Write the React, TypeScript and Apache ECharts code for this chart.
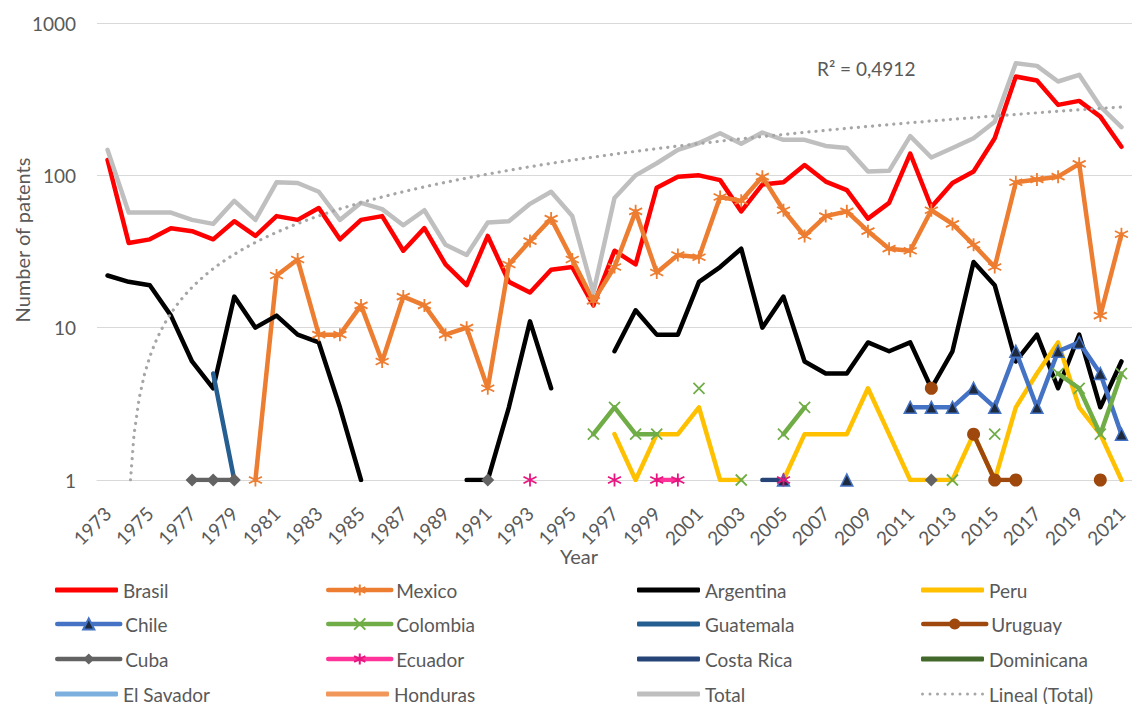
import React, { useEffect, useRef } from "react";
import * as echarts from "echarts";

// Patent counts per year for Latin American countries (log scale), 1973–2021
const YEARS = [
  "1973", "1974", "1975", "1976", "1977", "1978", "1979", "1980", "1981", "1982",
  "1983", "1984", "1985", "1986", "1987", "1988", "1989", "1990", "1991", "1992",
  "1993", "1994", "1995", "1996", "1997", "1998", "1999", "2000", "2001", "2002",
  "2003", "2004", "2005", "2006", "2007", "2008", "2009", "2010", "2011", "2012",
  "2013", "2014", "2015", "2016", "2017", "2018", "2019", "2020", "2021",
];

const BRASIL = [
  126, 36, 38, 45, 43, 38, 50, 40, 54, 51,
  61, 38, 51, 54, 32, 45, 26, 19, 40, 20,
  17, 24, 25, 14, 32, 26, 83, 98, 100, 93,
  58, 87, 90, 117, 91, 80, 52, 66, 139, 62,
  89, 106, 175, 445, 419, 290, 308, 243, 154,
];

const TOTAL = [
  147, 57, 57, 57, 51, 48, 68, 51, 90, 89,
  78, 51, 66, 60, 47, 59, 35, 30, 49, 50,
  65, 78, 54, 17, 71, 100, 120, 147, 163, 189,
  161, 191, 171, 171, 156, 151, 106, 107, 181, 131,
  151, 175, 225, 545, 523, 413, 457, 283, 207,
];

// [year, patents] — years without an entry are left as gaps
const MEXICO: [number, number][] = [
  [1980, 1], [1981, 22], [1982, 28], [1983, 9], [1984, 9], [1985, 14], [1986, 6],
  [1987, 16], [1988, 14], [1989, 9], [1990, 10], [1991, 4], [1992, 26], [1993, 37],
  [1994, 52], [1995, 28], [1996, 15], [1997, 25], [1998, 58], [1999, 23], [2000, 30],
  [2001, 29], [2002, 72], [2003, 68], [2004, 98], [2005, 59], [2006, 40], [2007, 54],
  [2008, 58], [2009, 43], [2010, 33], [2011, 32], [2012, 59], [2013, 48], [2014, 35],
  [2015, 25], [2016, 90], [2017, 94], [2018, 98], [2019, 119], [2020, 12], [2021, 41],
];
const ARGENTINA: [number, number][] = [
  [1973, 22], [1974, 20], [1975, 19], [1976, 12], [1977, 6], [1978, 4], [1979, 16],
  [1980, 10], [1981, 12], [1982, 9], [1983, 8], [1984, 3], [1985, 1],
  [1990, 1], [1991, 1], [1992, 3], [1993, 11], [1994, 4],
  [1997, 7], [1998, 13], [1999, 9], [2000, 9], [2001, 20], [2002, 25], [2003, 33],
  [2004, 10], [2005, 16], [2006, 6], [2007, 5], [2008, 5], [2009, 8], [2010, 7],
  [2011, 8], [2012, 4], [2013, 7], [2014, 27], [2015, 19], [2016, 6], [2017, 9],
  [2018, 4], [2019, 9], [2020, 3], [2021, 6],
];
const PERU: [number, number][] = [
  [1997, 2], [1998, 1], [1999, 2], [2000, 2], [2001, 3], [2002, 1], [2003, 1],
  [2005, 1], [2006, 2], [2007, 2], [2008, 2], [2009, 4], [2010, 2], [2011, 1],
  [2012, 1], [2013, 1], [2014, 2], [2015, 1], [2016, 3], [2017, 5], [2018, 8],
  [2019, 3], [2020, 2], [2021, 1],
];
const CHILE: [number, number][] = [
  [2005, 1], [2008, 1], [2011, 3], [2012, 3], [2013, 3], [2014, 4], [2015, 3],
  [2016, 7], [2017, 3], [2018, 7], [2019, 8], [2020, 5], [2021, 2],
];
const COLOMBIA: [number, number][] = [
  [1996, 2], [1997, 3], [1998, 2], [1999, 2], [2001, 4], [2003, 1], [2005, 2],
  [2006, 3], [2013, 1], [2015, 2], [2018, 5], [2019, 4], [2020, 2], [2021, 5],
];
const GUATEMALA: [number, number][] = [[1978, 5], [1979, 1]];
const URUGUAY: [number, number][] = [[2012, 4], [2014, 2], [2015, 1], [2016, 1], [2020, 1]];
const CUBA: [number, number][] = [[1977, 1], [1978, 1], [1979, 1], [1991, 1], [2012, 1]];
const ECUADOR: [number, number][] = [[1993, 1], [1997, 1], [1999, 1], [2000, 1], [2005, 1]];
const COSTA_RICA: [number, number][] = [[2004, 1], [2005, 1]];
const DOMINICANA: [number, number][] = [];
const EL_SAVADOR: [number, number][] = [];
const HONDURAS: [number, number][] = [];

const R2_LABEL = "R² = 0,4912";

// Legend grid: four columns, four rows
const LEGEND_COLUMNS = [55, 326, 637, 921];
const LEGEND_ROWS = [590, 624, 659, 694];
const LEGEND_ORDER = [
  ["Brasil", "Mexico", "Argentina", "Peru"],
  ["Chile", "Colombia", "Guatemala", "Uruguay"],
  ["Cuba", "Ecuador", "Costa Rica", "Dominicana"],
  ["El Savador", "Honduras", "Total", "Lineal (Total)"],
];

const FONT = 'Lato, "Noto Sans", sans-serif';
const TEXT = "#595959";
const GRID = "#D9D9D9";
const LINE_WIDTH = 4.5;

const STAR = "path://M5,0L5,10M0.67,2.5L9.33,7.5M0.67,7.5L9.33,2.5";
const CROSS = "path://M0,0L10,10M0,10L10,0";
const DOTS =
  "path://" +
  Array.from({ length: 9 }, (_, i) => `M${i * 7.5},1.5a1.5,1.5 0 1,0 3,0a1.5,1.5 0 1,0 -3,0z`).join("");

function toRow(pairs: [number, number][]) {
  const map = new Map(pairs.map(([y, v]) => [String(y), v]));
  return YEARS.map((y) => (map.has(y) ? map.get(y)! : null));
}

// Least-squares linear fit of the total, x = 1..n (category index + 1)
function linearFit(values: number[]) {
  const n = values.length;
  let sx = 0, sy = 0, sxx = 0, sxy = 0;
  values.forEach((v, i) => {
    const x = i + 1;
    sx += x; sy += v; sxx += x * x; sxy += x * v;
  });
  const slope = (n * sxy - sx * sy) / (n * sxx - sx * sx);
  const intercept = (sy - slope * sx) / n;
  return { slope, intercept };
}

function trendPoints(values: number[]) {
  const { slope, intercept } = linearFit(values);
  const last = values.length - 1;
  const start = (1 - intercept) / slope - 1; // where the fit reaches 1 on the log axis
  const pts: [number, number][] = [];
  const k0 = Math.max(start, 0);
  pts.push([k0, slope * (k0 + 1) + intercept]);
  for (let k = Math.ceil(k0 * 4) / 4; k <= last + 1e-9; k += 0.25) {
    if (k > k0) pts.push([k, slope * (k + 1) + intercept]);
  }
  return pts;
}

function line(name: string, data: (number | null)[], color: string, extra: any = {}) {
  return {
    name,
    type: "line",
    data,
    symbol: "none",
    showAllSymbol: true,
    connectNulls: false,
    lineStyle: { color, width: LINE_WIDTH, cap: "round", join: "round" },
    itemStyle: { color },
    emphasis: { disabled: true },
    ...extra,
  };
}

const MARKED = new Set(["Mexico", "Chile", "Colombia", "Uruguay", "Cuba", "Ecuador"]);
const LINE_COLORS: Record<string, string> = {
  Brasil: "#FF0000",
  Argentina: "#000000",
  Peru: "#FFC000",
  Guatemala: "#255E91",
  "Costa Rica": "#264478",
  Dominicana: "#43682B",
  "El Savador": "#7CAFDD",
  Honduras: "#F1975A",
  Total: "#BFBFBF",
  "Lineal (Total)": "#A6A6A6",
};

function legendFor(name: string, left: number, rowY: number) {
  const base: any = {
    left,
    top: rowY - 10,
    padding: 0,
    itemWidth: 63,
    selectedMode: false,
    textStyle: { fontSize: 19, color: TEXT, fontFamily: FONT, lineHeight: 20 },
  };
  if (MARKED.has(name)) {
    return { ...base, itemHeight: 14, lineStyle: { width: LINE_WIDTH }, data: [name] };
  }
  if (name === "Lineal (Total)") {
    return {
      ...base,
      itemHeight: 3,
      data: [{ name, icon: DOTS, itemStyle: { color: LINE_COLORS[name], borderWidth: 0 } }],
    };
  }
  return {
    ...base,
    itemHeight: 5,
    data: [{ name, icon: "roundRect", itemStyle: { color: LINE_COLORS[name], borderWidth: 0 } }],
  };
}

export default function App() {
  const ref = useRef<HTMLDivElement>(null);

  useEffect(() => {
    if (!ref.current) return;
    const chart = echarts.init(ref.current, null, { renderer: "svg" });

    const series: any[] = [
      line("Brasil", BRASIL, LINE_COLORS.Brasil),
      line("Mexico", toRow(MEXICO), "#ED7D31", {
        symbol: STAR,
        symbolSize: 13,
        itemStyle: { color: "#ED7D31", borderColor: "#ED7D31", borderWidth: 1.8 },
      }),
      line("Argentina", toRow(ARGENTINA), LINE_COLORS.Argentina),
      line("Peru", toRow(PERU), LINE_COLORS.Peru),
      line("Chile", toRow(CHILE), "#4472C4", {
        symbol: "triangle",
        symbolSize: 12,
        itemStyle: { color: "#1E2A3E", borderColor: "#4472C4", borderWidth: 1.5 },
      }),
      line("Colombia", toRow(COLOMBIA), "#70AD47", {
        symbol: CROSS,
        symbolSize: 11,
        itemStyle: { color: "#70AD47", borderColor: "#70AD47", borderWidth: 1.8 },
      }),
      line("Guatemala", toRow(GUATEMALA), LINE_COLORS.Guatemala),
      line("Uruguay", toRow(URUGUAY), "#9E480E", {
        symbol: "circle",
        symbolSize: 13,
        itemStyle: { color: "#9E480E" },
      }),
      line("Cuba", toRow(CUBA), "#636363", {
        symbol: "diamond",
        symbolSize: 13,
        itemStyle: { color: "#636363" },
      }),
      line("Ecuador", toRow(ECUADOR), "#FF3399", {
        symbol: STAR,
        symbolSize: 13,
        itemStyle: { color: "#E6157F", borderColor: "#E6157F", borderWidth: 1.8 },
      }),
      line("Costa Rica", toRow(COSTA_RICA), LINE_COLORS["Costa Rica"]),
      line("Dominicana", toRow(DOMINICANA), LINE_COLORS.Dominicana),
      line("El Savador", toRow(EL_SAVADOR), LINE_COLORS["El Savador"]),
      line("Honduras", toRow(HONDURAS), LINE_COLORS.Honduras),
      line("Total", TOTAL, LINE_COLORS.Total),
      {
        name: "Lineal (Total)",
        type: "line",
        xAxisIndex: 1,
        data: trendPoints(TOTAL),
        symbol: "none",
        lineStyle: { color: "#A6A6A6", width: 3.2, type: [0.1, 7], cap: "round" },
        itemStyle: { color: "#A6A6A6" },
        emphasis: { disabled: true },
        z: 3,
      },
    ];

    const legends: any[] = [];
    LEGEND_ORDER.forEach((row, r) =>
      row.forEach((name, c) => legends.push(legendFor(name, LEGEND_COLUMNS[c], LEGEND_ROWS[r])))
    );

    chart.setOption({
      animation: false,
      backgroundColor: "#FFFFFF",
      textStyle: { fontFamily: FONT },
      grid: { left: 97, top: 23, width: 1037, height: 457, containLabel: false },
      xAxis: [
        {
          type: "category",
          data: YEARS,
          boundaryGap: true,
          axisLine: { show: true, lineStyle: { color: GRID, width: 1 } },
          axisTick: { show: false },
          axisLabel: {
            interval: 1,
            rotate: 45,
            fontSize: 19,
            color: TEXT,
            fontFamily: FONT,
            margin: 30,
          },
          splitLine: { show: false },
        },
        { type: "value", min: -0.5, max: 48.5, show: false },
      ],
      yAxis: {
        type: "log",
        logBase: 10,
        min: 1,
        max: 1000,
        axisLine: { show: false },
        axisTick: { show: false },
        axisLabel: {
          fontSize: 19,
          color: TEXT,
          fontFamily: FONT,
          margin: 21,
          formatter: (v: number) => String(v),
        },
        splitLine: { lineStyle: { color: GRID, width: 1 } },
      },
      legend: legends,
      graphic: [
        {
          type: "text",
          x: 22,
          y: 240,
          rotation: Math.PI / 2,
          style: {
            text: "Number of patents",
            fontSize: 20,
            fontFamily: FONT,
            fill: TEXT,
            textAlign: "center",
            textVerticalAlign: "middle",
          },
        },
        {
          type: "text",
          x: 579,
          y: 556,
          style: {
            text: "Year",
            fontSize: 20,
            fontFamily: FONT,
            fill: TEXT,
            textAlign: "center",
            textVerticalAlign: "middle",
          },
        },
        {
          type: "text",
          x: 817,
          y: 68,
          style: {
            text: R2_LABEL,
            fontSize: 19,
            fontFamily: FONT,
            fill: TEXT,
            textAlign: "left",
            textVerticalAlign: "middle",
          },
        },
      ],
      series,
    });

    return () => chart.dispose();
  }, []);

  return (
    <div
      ref={ref}
      style={{ position: "absolute", left: 0, top: 0, width: 1132, height: 704, background: "#fff" }}
    />
  );
}
